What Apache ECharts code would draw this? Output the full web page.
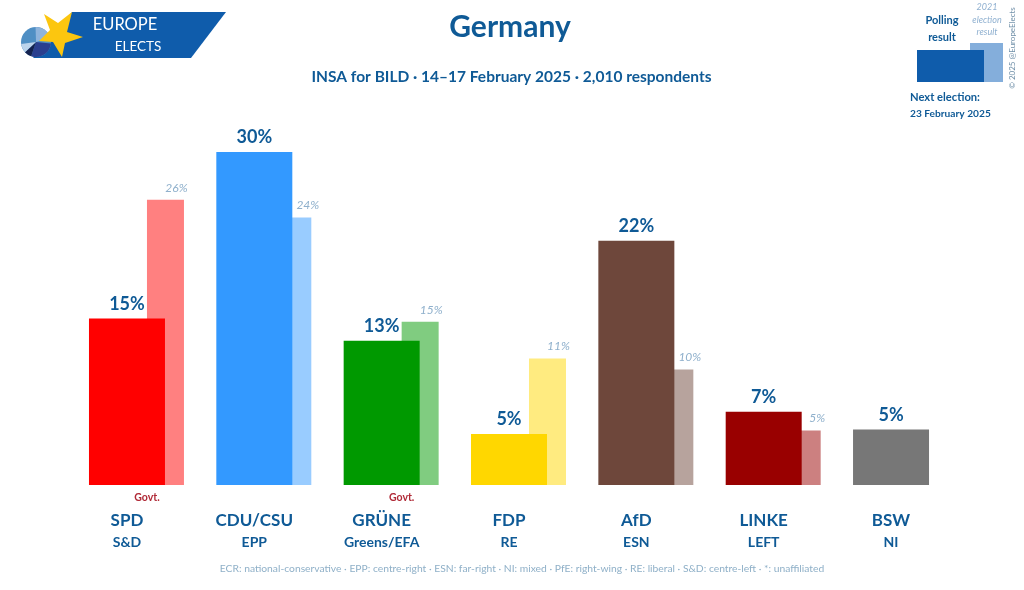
<!DOCTYPE html>
<html>
<head>
<meta charset="utf-8">
<style>html,body{margin:0;padding:0;background:#fff}#chart{width:1024px;height:590px}</style>
<script src="https://cdn.jsdelivr.net/npm/echarts@6/dist/echarts.min.js"></script>
</head>
<body>
<div id="chart"></div>
<script>
var parties = ['SPD', 'CDU/CSU', 'GRÜNE', 'FDP', 'AfD', 'LINKE', 'BSW'];
var groups = ['S&D', 'EPP', 'Greens/EFA', 'RE', 'ESN', 'LEFT', 'NI'];
var inGovt = [true, false, true, false, false, false, false];
var pollValues = [15, 30, 13, 4.6, 22, 6.6, 5];
var electionValues = [25.7, 24.1, 14.7, 11.4, 10.4, 4.9, null];
var pollColors = ['#ff0000', '#3399ff', '#009900', '#ffd700', '#6e473b', '#990000', '#777777'];
var electionColors = ['#ff8080', '#99ccff', '#80cc80', '#ffeb80', '#b7a39d', '#cc8080', '#bbbbbb'];

var FONT = 'Lato, "Open Sans", sans-serif';
var BLUE = '#0f5a96';
var LOGO = '#0f5cab';

var myChart = echarts.init(document.getElementById('chart'));

function txt(x, y, s, size, color, extra) {
	return {
		type: 'text',
		x: x,
		y: y,
		silent: true,
		style: Object.assign({
			text: s,
			fontFamily: FONT,
			fontSize: size,
			fill: color,
			align: 'center',
			verticalAlign: 'middle'
		}, extra || {})
	};
}

var option = {
	backgroundColor: '#ffffff',
	animation: false,
	title: [{
		text: 'Germany',
		left: 505,
		top: 7,
		textAlign: 'center',
		textStyle: {fontFamily: FONT, fontSize: 30, fontWeight: 'bold', color: BLUE}
	}, {
		text: 'INSA for BILD · 14–17 February 2025 · 2,010 respondents',
		left: 506.5,
		top: 64,
		textAlign: 'center',
		textStyle: {fontFamily: FONT, fontSize: 15.5, fontWeight: 'bold', color: BLUE}
	}],
	grid: {left: 72.8, right: 59.8, top: 152, height: 333},
	xAxis: {
		type: 'category',
		data: parties,
		axisLine: {show: false},
		axisTick: {show: false},
		axisLabel: {
			interval: 0,
			margin: 4,
			fontFamily: FONT,
			formatter: function(name, i) {
				var g = inGovt[i] ? '{g|Govt.}' : '{e| }';
				return g + '\n{n|' + name + '}\n{f|' + groups[i] + '}';
			},
			rich: {
				g: {fontFamily: FONT, fontSize: 10.5, fontWeight: 'bold', color: '#b02a37', height: 17, padding: [0, 0, 0, 21]},
				e: {fontSize: 10.5, height: 17},
				n: {fontFamily: FONT, fontSize: 17, fontWeight: 'bold', color: BLUE, height: 29, padding: [0, 19, 0, 0]},
				f: {fontFamily: FONT, fontSize: 14, fontWeight: 'bold', color: BLUE, height: 15, padding: [0, 19, 0, 0]}
			}
		}
	},
	yAxis: {type: 'value', min: 0, max: 30, show: false},
	series: [{
		name: 'Polling result',
		type: 'bar',
		z: 3,
		barWidth: 76,
		barGap: '-23.7%',
		data: pollValues.map(function(v, i) {
			return {value: v, itemStyle: {color: pollColors[i]}};
		}),
		label: {
			show: true,
			position: 'top',
			distance: 5.5,
			fontFamily: FONT,
			fontSize: 18,
			fontWeight: 'bold',
			color: BLUE,
			formatter: function(p) { return Math.round(p.value) + '%'; }
		}
	}, {
		name: '2021 election result',
		type: 'bar',
		z: 2,
		barWidth: 37,
		data: electionValues.map(function(v, i) {
			return {
				value: v,
				itemStyle: {color: electionColors[i]},
				// keep the small label clear of the taller polling bar
				label: {offset: [pollValues[i] > v ? 15 : 11, 0]}
			};
		}),
		label: {
			show: true,
			position: 'top',
			distance: 6,
			fontFamily: FONT,
			fontSize: 12,
			fontStyle: 'italic',
			color: '#8fb0cc',
			formatter: function(p) { return Math.round(p.value) + '%'; }
		}
	}],
	graphic: [
		// logo
		{type: 'polygon', silent: true, shape: {points: [[72, 12], [226, 12], [191, 58], [33, 58]]}, style: {fill: LOGO}},
		{type: 'circle', silent: true, shape: {cx: 36, cy: 42, r: 15}, style: {fill: '#4f8fc4'}},
		{type: 'sector', silent: true, shape: {cx: 36, cy: 42, r: 15, r0: 0, startAngle: -1.6, endAngle: -0.3}, style: {fill: '#8fb4dc'}},
		{type: 'sector', silent: true, shape: {cx: 36, cy: 42, r: 15, r0: 0, startAngle: 0.1, endAngle: 1.9}, style: {fill: '#2a3f8f'}},
		{type: 'sector', silent: true, shape: {cx: 36, cy: 42, r: 15, r0: 0, startAngle: 1.9, endAngle: 2.4}, style: {fill: '#14224f'}},
		{type: 'sector', silent: true, shape: {cx: 36, cy: 42, r: 15, r0: 0, startAngle: 2.4, endAngle: 3.0}, style: {fill: '#bcd4ec'}},
		{type: 'polygon', silent: true, shape: {points: [[72, 12], [67, 32], [83, 37], [65, 43], [62, 57], [53, 42], [39, 41], [50, 30], [44, 14], [58, 23]]}, style: {fill: '#fcc60f'}},
		txt(125, 25, 'EUROPE', 16.5, '#ffffff'),
		txt(138, 47, 'ELECTS', 13.5, '#ffffff'),
		// key
		{type: 'rect', silent: true, shape: {x: 970, y: 43, width: 33, height: 39}, style: {fill: '#84aedb'}},
		{type: 'rect', silent: true, shape: {x: 917, y: 50, width: 67, height: 32}, style: {fill: '#0f5cab'}},
		txt(942, 20, 'Polling', 11, BLUE, {fontWeight: 'bold'}),
		txt(942, 37, 'result', 11, BLUE, {fontWeight: 'bold'}),
		txt(987, 7, '2021', 9, '#8fb0d0', {fontStyle: 'italic'}),
		txt(987, 20, 'election', 9, '#8fb0d0', {fontStyle: 'italic'}),
		txt(987, 32, 'result', 9, '#8fb0d0', {fontStyle: 'italic'}),
		txt(910, 97, 'Next election:', 11.2, BLUE, {fontWeight: 'bold', align: 'left'}),
		txt(910, 114, '23 February 2025', 10.2, BLUE, {fontWeight: 'bold', align: 'left'}),
		{
			type: 'text', silent: true, x: 1012, y: 48, rotation: Math.PI / 2,
			style: {text: '© 2025 @EuropeElects', fontFamily: FONT, fontSize: 8, fill: '#6f8fa8', align: 'center', verticalAlign: 'middle'}
		},
		// footer
		txt(522, 569, 'ECR: national-conservative · EPP: centre-right · ESN: far-right · NI: mixed · PfE: right-wing · RE: liberal · S&D: centre-left · *: unaffiliated', 10.3, '#8fb0c8')
	]
};

myChart.setOption(option);
</script>
</body>
</html>
